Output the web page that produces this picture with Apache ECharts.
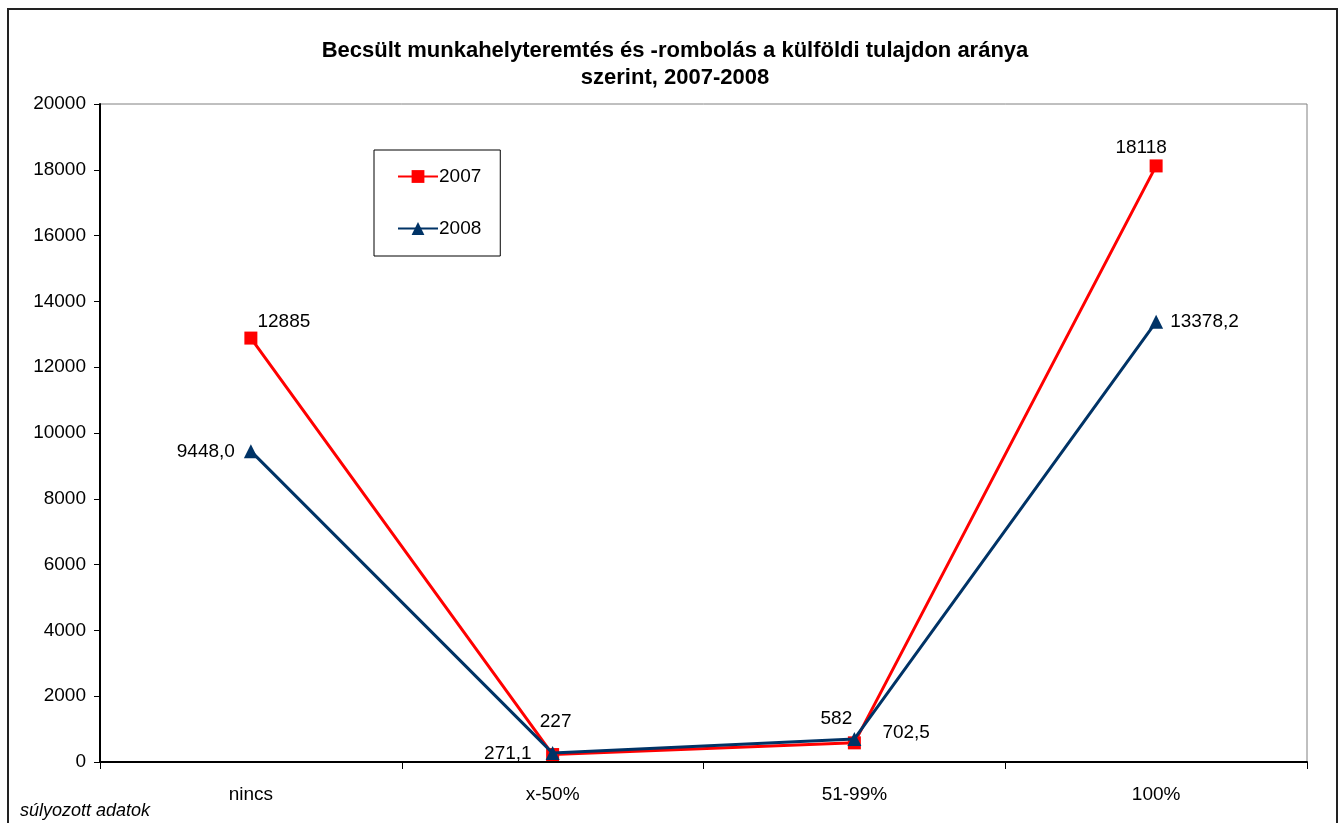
<!DOCTYPE html>
<html>
<head>
<meta charset="utf-8">
<script src="https://cdn.jsdelivr.net/npm/echarts@6/dist/echarts.min.js"></script>
<style>
html,body{margin:0;padding:0;background:#fff;}
#chart{width:1339px;height:823px;}
</style>
</head>
<body>
<div id="chart"></div>
<script>
const titleText = 'Becsült munkahelyteremtés és -rombolás a külföldi tulajdon aránya\nszerint, 2007-2008';
const categories = ['nincs', 'x-50%', '51-99%', '100%'];
const series2007 = [12885, 227, 582, 18118];
const series2008 = [9448.0, 271.1, 702.5, 13378.2];
const yTicks = { min: 0, max: 20000, interval: 2000 };
const noteText = 'súlyozott adatok';

const FONT = '"Liberation Sans", Arial, sans-serif';

const labels2007 = [
  { position: 'top', offset: [33, 5] },
  { position: 'top', offset: [3, -12] },
  { position: 'top', offset: [-18, -3] },
  { position: 'top', offset: [-15, 3] }
];
const labels2008 = [
  { position: 'left', offset: [-4, 1] },
  { position: 'left', offset: [-9, 1] },
  { position: 'right', offset: [16, -6] },
  { position: 'right', offset: [2, 0] }
];

const chart = echarts.init(document.getElementById('chart'), null, { renderer: 'canvas' });

const labelBase = { show: true, color: '#000', fontFamily: FONT, fontSize: 19 };

chart.setOption({
  backgroundColor: '#fff',
  animation: false,
  title: {
    text: titleText,
    left: 670,
    textAlign: 'center',
    top: 32,
    textStyle: { fontFamily: FONT, fontSize: 22, fontWeight: 'bold', color: '#000', lineHeight: 27 }
  },
  legend: {
    orient: 'vertical',
    left: 374,
    top: 150,
    padding: [17, 19, 18, 23],
    itemGap: 33,
    itemWidth: 40,
    itemHeight: 16,
    borderColor: '#000',
    borderWidth: 1,
    textStyle: { fontFamily: FONT, fontSize: 19, color: '#000', padding: [0, 0, 0, -4] },
    data: ['2007', '2008']
  },
  grid: {
    left: 100, right: 32, top: 104, bottom: 61,
    show: true, borderColor: '#808080', borderWidth: 1, backgroundColor: 'transparent'
  },
  xAxis: {
    type: 'category',
    data: categories,
    boundaryGap: true,
    axisLine: { lineStyle: { color: '#000', width: 2 } },
    axisTick: { show: true, length: 7, lineStyle: { color: '#000' } },
    axisLabel: { color: '#000', fontFamily: FONT, fontSize: 19, margin: 23 },
    splitLine: { show: false }
  },
  yAxis: {
    type: 'value',
    min: yTicks.min, max: yTicks.max, interval: yTicks.interval,
    axisLine: { show: true, lineStyle: { color: '#000', width: 2 } },
    axisTick: { show: true, length: 6, lineStyle: { color: '#000' } },
    axisLabel: { color: '#000', fontFamily: FONT, fontSize: 19, margin: 14, formatter: v => String(v) },
    splitLine: { show: false }
  },
  graphic: [
    {
      type: 'rect',
      shape: { x: 8, y: 9, width: 1329, height: 840 },
      style: { fill: 'none', stroke: '#222', lineWidth: 2 },
      silent: true, z: -1
    },
    {
      type: 'text',
      left: 20, top: 802,
      style: { text: noteText, font: 'italic 18px ' + FONT, fill: '#000' }
    }
  ],
  series: [
    {
      name: '2007',
      type: 'line',
      data: series2007.map((v, i) => ({ value: v, label: labels2007[i] })),
      symbol: 'rect',
      symbolSize: 13,
      itemStyle: { color: '#FF0000' },
      lineStyle: { color: '#FF0000', width: 3 },
      label: Object.assign({}, labelBase, { formatter: p => String(p.value) }),
      z: 3
    },
    {
      name: '2008',
      type: 'line',
      data: series2008.map((v, i) => ({ value: v, label: labels2008[i] })),
      symbol: 'triangle',
      symbolSize: 14,
      itemStyle: { color: '#003366' },
      lineStyle: { color: '#003366', width: 3 },
      label: Object.assign({}, labelBase, { formatter: p => p.value.toFixed(1).replace('.', ',') }),
      z: 4
    }
  ]
});
</script>
</body>
</html>
